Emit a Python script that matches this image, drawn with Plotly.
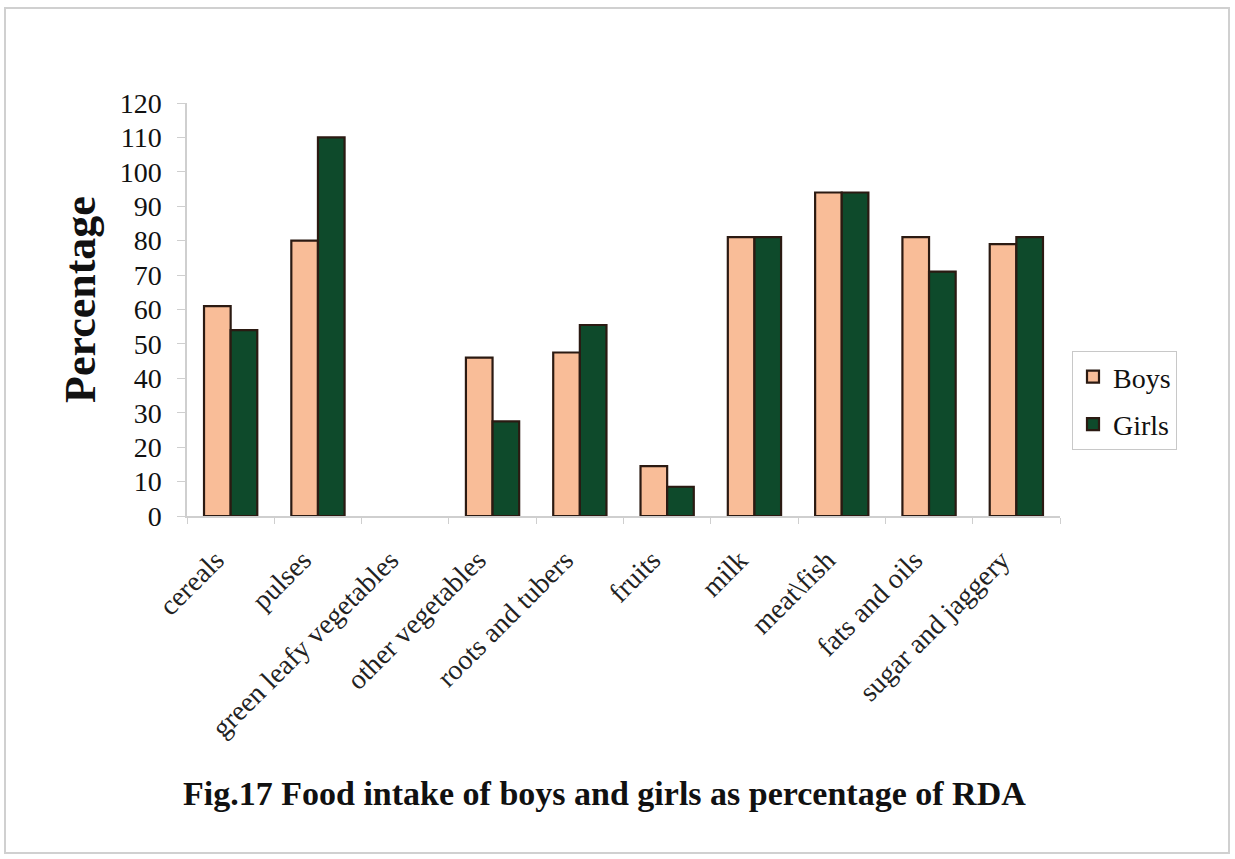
import plotly.graph_objects as go

# Food groups and intake as percentage of RDA
categories = ["cereals", "pulses", "green leafy vegetables", "other vegetables",
              "roots and tubers", "fruits", "milk", "meat\\fish",
              "fats and oils", "sugar and jaggery"]
boys = [61, 80, 0, 46, 47.5, 14.5, 81, 94, 81, 79]
girls = [54, 110, 0, 27.5, 55.5, 8.5, 81, 94, 71, 81]
y_ticks = list(range(0, 121, 10))

W, H = 1235, 859
L, R, T, B = 187, 1060, 103, 516  # plot area in pixels

serif = "Liberation Serif, Times New Roman, serif"
edge = "#2b1a12"


def outline(values):
    # no outline on empty bars
    return dict(color=edge, width=[0 if v == 0 else 2.2 for v in values])


fig = go.Figure()
fig.add_trace(go.Bar(name="Boys", x=categories, y=boys, legendgroup="b",
                     marker=dict(color="#F9BD98", line=outline(boys))))
fig.add_trace(go.Bar(name="Girls", x=categories, y=girls, legendgroup="g",
                     marker=dict(color="#0E4A2B", line=outline(girls))))

pw, ph = R - L, B - T


def px(x):
    return (x - L) / pw


def py(y):
    return (B - y) / ph


# rotated category labels sit a little left of each category centre
pad = "\u00a0" * 3
tick_text = [c + pad for c in categories]

fig.update_layout(
    width=W, height=H,
    margin=dict(l=L, r=W - R, t=T, b=H - B),
    paper_bgcolor="white", plot_bgcolor="white",
    barmode="group", bargap=0.39, bargroupgap=0,
    font=dict(family=serif, color="#111111"),
    showlegend=True,
    legend=dict(x=px(1072), y=py(351), xanchor="left", yanchor="top",
                font=dict(family=serif, size=28, color="#111111"),
                bordercolor="#c8c8c8", borderwidth=1,
                itemwidth=30, tracegroupgap=8,
                bgcolor="white"),
    xaxis=dict(
        tickmode="array", tickvals=categories, ticktext=tick_text,
        tickangle=-45, tickfont=dict(family=serif, size=28, color="#222222"),
        ticklabelstandoff=0,
        showline=True, linecolor="#cfcfcf", linewidth=1.5,
        ticks="outside", tickson="boundaries", ticklen=6, tickcolor="#cfcfcf",
        showgrid=False, zeroline=False,
    ),
    yaxis=dict(
        range=[0, 120], tickvals=y_ticks,
        tickfont=dict(family=serif, size=28, color="#111111"),
        ticklabelstandoff=10,
        showline=True, linecolor="#cfcfcf", linewidth=1.5,
        ticks="outside", ticklen=8, tickcolor="#cfcfcf",
        showgrid=False, zeroline=False,
    ),
    annotations=[
        dict(text="<b>Percentage</b>", textangle=-90, xref="paper", yref="paper",
             x=px(80), y=py(300), xanchor="center", yanchor="middle",
             showarrow=False,
             font=dict(family=serif, size=44, color="#111111")),
        dict(text="<b>Fig.17 Food intake of boys and girls as percentage of RDA</b>",
             xref="paper", yref="paper", x=px(604), y=py(793),
             xanchor="center", yanchor="middle", showarrow=False,
             font=dict(family=serif, size=34, color="#111111")),
    ],
    shapes=[
        dict(type="rect", xref="paper", yref="paper",
             x0=px(5), x1=px(1229), y0=py(853), y1=py(8),
             line=dict(color="#d0d0d0", width=2), layer="below"),
    ],
)

fig.write_html("out.html")
